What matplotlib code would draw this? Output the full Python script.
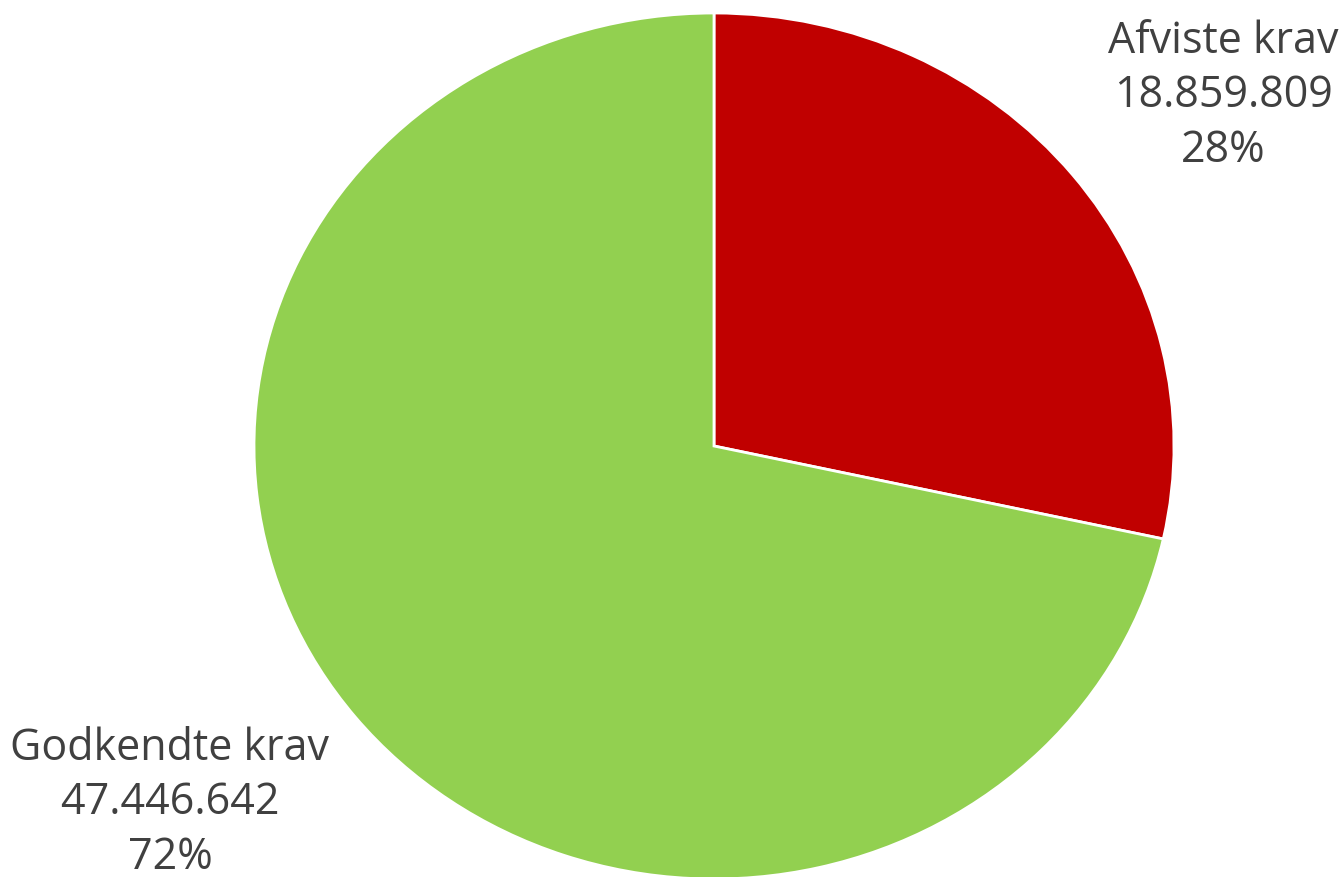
import matplotlib
matplotlib.use("Agg")
import matplotlib.pyplot as plt

# data
labels = ["Afviste krav", "Godkendte krav"]
values = [18859809, 47446642]
colors = ["#C00000", "#92D050"]

total = sum(values)

def fmt_num(v):
    return f"{v:,}".replace(",", ".")

plt.rcParams["font.family"] = ["Open Sans", "DejaVu Sans"]

fig = plt.figure(figsize=(13.43, 8.78), dpi=100)
ax = fig.add_axes([254 / 1343, -2 / 878, 920 / 1343, 866 / 878])

ax.pie(values, colors=colors, startangle=90, counterclock=False,
       wedgeprops=dict(edgecolor="white", linewidth=2))
ax.set_aspect("auto")
ax.set_xlim(-1, 1)
ax.set_ylim(-1, 1)
ax.axis("off")

# labels
label_pos = [(1223 / 1343, 1 - 96 / 878), (170 / 1343, 1 - 803 / 878)]
for lab, v, (x, y) in zip(labels, values, label_pos):
    pct = round(v / total * 100)
    fig.text(x, y, f"{lab}\n{fmt_num(v)}\n{pct}%", ha="center", va="center",
             fontsize=31, color="#404040", linespacing=1.3)

fig.savefig("out.png", dpi=100)
